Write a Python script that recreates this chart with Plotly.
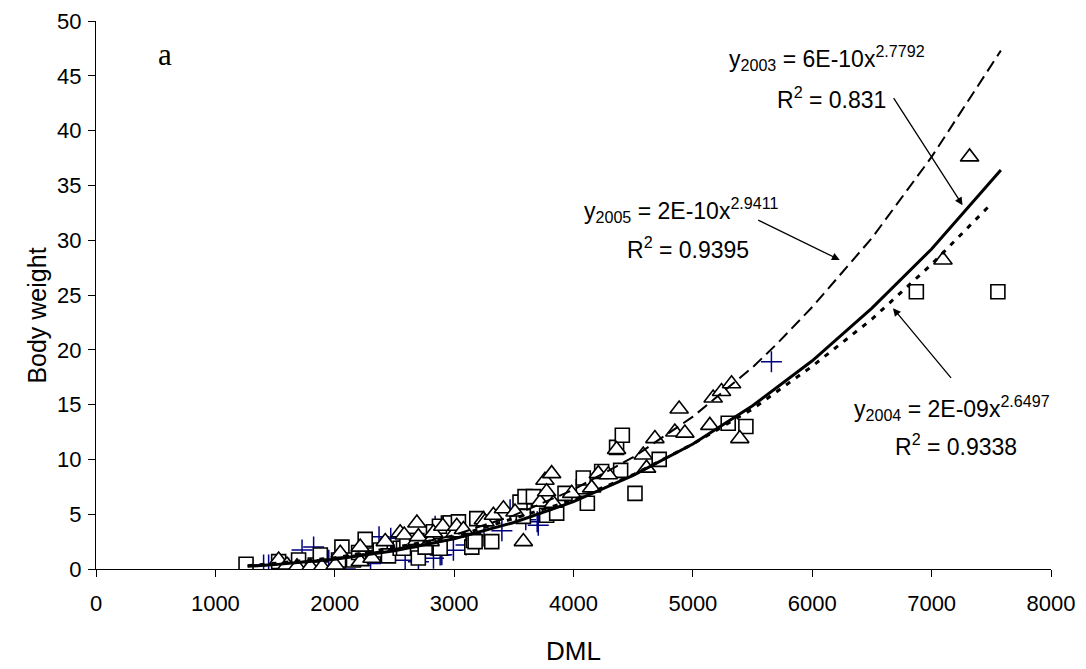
import plotly.graph_objects as go

# ---- data ----
sq_x = [1257, 1530, 1628, 1697, 1837, 1879, 2032, 2060, 2157, 2200, 2255, 2325, 2381, 2450, 2548, 2576,
        2604, 2688, 2700, 2757, 2827, 2877, 2883, 2952, 2967, 3036, 3148, 3162, 3176, 3190, 3315, 3552,
        3580, 3594, 3664, 3775, 3859, 3929, 4082, 4082, 4116, 4236, 4361, 4395, 4409, 4515, 4718, 5296,
        5444, 6872, 7555]
sq_y = [0.43, 0.67, 0.06, 0.82, 0.37, 1.28, 0.82, 2.0, 0.82, 1.5, 2.7, 1.28, 1.73, 1.2, 1.9, 1.9,
        2.6, 2.6, 1.0, 2.0, 3.4, 3.9, 1.9, 4.2, 4.2, 4.3, 2.0, 2.6, 2.5, 4.6, 2.5, 6.1,
        4.8, 6.6, 6.6, 4.9, 5.1, 6.9, 7.5, 8.3, 6.0, 8.9, 11.1, 9.0, 12.2, 6.9, 10.0, 13.3,
        13.0, 25.3, 25.3]

tri_x = [1530, 1600, 1684, 1795, 1893, 2004, 2046, 2213, 2213, 2312, 2423, 2548, 2582, 2688, 2688, 2701,
         2799, 2827, 2905, 3008, 3022, 3078, 3245, 3259, 3329, 3413, 3510, 3580, 3720, 3761, 3775, 3817,
         3831, 3985, 4152, 4208, 4291, 4361, 4584, 4612, 4682, 4849, 4885, 4933, 5142, 5170, 5240, 5324,
         5393, 7095, 7318]
tri_y = [0.82, 0.37, 0.2, 0.2, 0.2, 0.37, 1.43, 2.0, 0.67, 0.98, 2.5, 3.3, 3.1, 4.2, 2.6, 2.95,
         2.5, 3.3, 3.9, 3.3, 3.9, 3.6, 4.5, 4.3, 4.9, 5.5, 5.2, 2.5, 6.1, 8.1, 7.05, 8.7,
         6.0, 6.9, 7.4, 8.7, 8.6, 10.9, 10.4, 9.2, 11.9, 12.5, 14.6, 12.4, 13.1, 15.6, 16.2, 16.9,
         11.9, 28.2, 37.6]

plus_x = [1404, 1446, 1558, 1614, 1670, 1726, 1823, 1865, 1950, 2088, 2150, 2300, 2371, 2469, 2500, 2590,
          2701, 2827, 2841, 2883, 2897, 2994, 3100, 3250, 3400, 3469, 3600, 3696, 3705, 5658]
plus_y = [0.37, 0.37, 0.0, 0.1, 0.0, 1.73, 2.0, 0.0, 0.8, 0.0, 1.2, 0.5, 2.95, 2.8, 1.5, 0.8,
          0.67, 0.98, 3.9, 1.28, 1.3, 1.7, 2.2, 3.0, 3.5, 5.4, 4.5, 4.3, 4.0, 18.9]

# trend lines
t2003_x = [1270, 1500, 2000, 2500, 3000, 3500, 4000, 4500, 5000, 5500, 6000, 6500, 7000, 7580]
t2003_y = [0.25, 0.40, 0.89, 1.66, 2.76, 4.24, 6.14, 8.55, 11.4, 14.9, 19.0, 23.8, 29.2, 36.4]

t2005_x = [1400, 2000, 2500, 3000, 3500, 4000, 4500, 5000, 5500, 5700, 6000, 6500, 7000, 7580]
t2005_y = [0.33, 0.94, 1.81, 3.10, 4.89, 7.24, 10.2, 13.9, 18.4, 20.5, 23.9, 30.2, 37.6, 47.3]

t2004_x = [1270, 2000, 3000, 4000, 4500, 5000, 5500, 6000, 6500, 7000, 7480]
t2004_y = [0.30, 1.01, 2.94, 6.30, 8.6, 11.4, 14.6, 18.5, 22.8, 27.8, 33.1]

x_ticks = [0, 1000, 2000, 3000, 4000, 5000, 6000, 7000, 8000]
y_ticks = [0, 5, 10, 15, 20, 25, 30, 35, 40, 45, 50]

FONT = "Arial, Liberation Sans, sans-serif"

fig = go.Figure()
fig.add_trace(go.Scatter(x=plus_x, y=plus_y, mode="markers",
                         marker=dict(symbol="cross-thin", size=15, line=dict(color="#000080", width=1.5))))
fig.add_trace(go.Scatter(x=sq_x, y=sq_y, mode="markers",
                         marker=dict(symbol="square", size=14, color="white", line=dict(color="black", width=1.6))))
fig.add_trace(go.Scatter(x=tri_x, y=tri_y, mode="markers",
                         marker=dict(symbol="triangle-up", size=16, color="white", line=dict(color="black", width=1.6))))
fig.add_trace(go.Scatter(x=t2005_x, y=t2005_y, mode="lines",
                         line=dict(color="black", width=2, dash="12px,6px")))
fig.add_trace(go.Scatter(x=t2004_x, y=t2004_y, mode="lines",
                         line=dict(color="black", width=3, dash="5px,7px")))
fig.add_trace(go.Scatter(x=t2003_x, y=t2003_y, mode="lines",
                         line=dict(color="black", width=3)))

ann_font = dict(family=FONT, size=23, color="black")
annotations = [
    dict(x=580, y=46.9, text="a", showarrow=False,
         font=dict(family="Times New Roman, Liberation Serif, serif", size=31, color="black")),
    dict(x=5290, y=46.6, xanchor="left", text="y<sub>2003</sub> = 6E-10x<sup>2.7792</sup>", showarrow=False, font=ann_font),
    dict(x=5686, y=43.0, xanchor="left", text="R<sup>2</sup> = 0.831", showarrow=False, font=ann_font),
    dict(x=4075, y=32.8, xanchor="left", text="y<sub>2005</sub> = 2E-10x<sup>2.9411</sup>", showarrow=False, font=ann_font),
    dict(x=4431, y=29.3, xanchor="left", text="R<sup>2</sup> = 0.9395", showarrow=False, font=ann_font),
    dict(x=6335, y=14.7, xanchor="left", text="y<sub>2004</sub> = 2E-09x<sup>2.6497</sup>", showarrow=False, font=ann_font),
    dict(x=6673, y=11.3, xanchor="left", text="R<sup>2</sup> = 0.9338", showarrow=False, font=ann_font),
    dict(x=-0.062, y=0.462, xref="paper", yref="paper", xanchor="center", yanchor="middle",
         text="Body weight", textangle=-90,
         showarrow=False, font=dict(family=FONT, size=25, color="black")),
]
arrows = [((6674, 43.1), (7259, 33.2)), ((5535, 31.9), (6230, 28.2)), ((7173, 17.3), (6676, 23.8))]
for (tx, ty), (hx, hy) in arrows:
    annotations.append(dict(x=hx, y=hy, ax=tx, ay=ty, axref="x", ayref="y", xref="x", yref="y",
                            text="", showarrow=True, arrowhead=2, arrowsize=1.2, arrowwidth=1.3,
                            arrowcolor="black"))

fig.update_layout(
    width=1086, height=669,
    margin=dict(l=96, r=35, t=21, b=100),
    paper_bgcolor="white", plot_bgcolor="white",
    showlegend=False,
    font=dict(family=FONT, size=22, color="black"),
    annotations=annotations,
)
fig.update_xaxes(range=[0, 8000], tickvals=x_ticks, ticks="outside", ticklen=7, tickwidth=1,
                 tickcolor="black", showline=True, linecolor="black", linewidth=1, showgrid=False,
                 zeroline=False, tickfont=dict(size=22), ticklabelstandoff=8, automargin=False,
                 title=dict(text="DML", font=dict(size=26), standoff=26))
fig.update_yaxes(range=[0, 50], tickvals=y_ticks, ticks="outside", ticklen=7, tickwidth=1,
                 tickcolor="black", showline=True, linecolor="black", linewidth=1, showgrid=False,
                 zeroline=False, tickfont=dict(size=22), ticklabelstandoff=2, automargin=False)

fig.write_html("out.html")
